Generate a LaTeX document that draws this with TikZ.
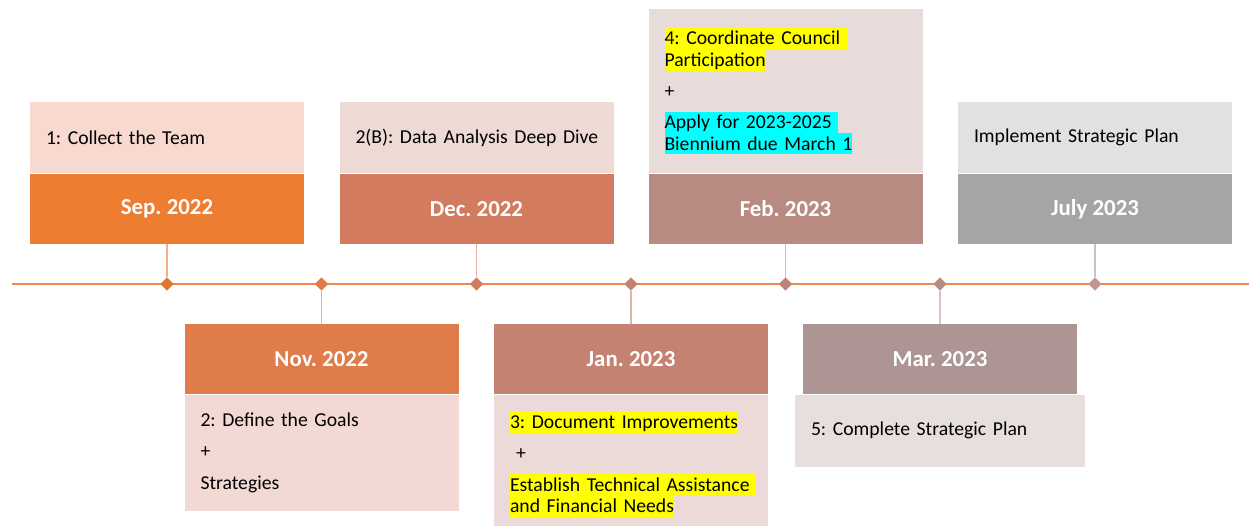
\documentclass[tikz,border=0pt]{standalone}
\usepackage{fontspec}
\setmainfont{Carlito}
\usetikzlibrary{positioning,shapes.geometric}

\definecolor{axisline}{HTML}{ED8B4F}
\definecolor{sepDate}{HTML}{ED7D31}
\definecolor{sepNote}{HTML}{F7D9D0}
\definecolor{sepLink}{HTML}{F4B183}
\definecolor{novDate}{HTML}{E07B4A}
\definecolor{novNote}{HTML}{F2D9D3}
\definecolor{novLink}{HTML}{F2B290}
\definecolor{decDate}{HTML}{D27B5E}
\definecolor{decNote}{HTML}{EEDAD5}
\definecolor{decLink}{HTML}{E9B4A3}
\definecolor{janDate}{HTML}{C58270}
\definecolor{janNote}{HTML}{EBDAD7}
\definecolor{janLink}{HTML}{DDB4A9}
\definecolor{febDate}{HTML}{B98A82}
\definecolor{febNote}{HTML}{E8DCDA}
\definecolor{febLink}{HTML}{D6BDB8}
\definecolor{marDate}{HTML}{AD9593}
\definecolor{marNote}{HTML}{E6DFDE}
\definecolor{marLink}{HTML}{D9C6C3}
\definecolor{julDate}{HTML}{A5A5A5}
\definecolor{julNote}{HTML}{E1E1E1}
\definecolor{julLink}{HTML}{C4C4C4}
\definecolor{hlyellow}{HTML}{FFFF00}
\definecolor{hlcyan}{HTML}{00FFFF}

% highlighted line of text
\newcommand{\hilite}[2]{{\setlength{\fboxsep}{0pt}\colorbox{#1}{\rule[-2.5pt]{0pt}{12.1pt}#2}}}

\begin{document}
\frenchspacing
\begin{tikzpicture}[
  datebox/.style={rectangle, minimum width=5.48cm, minimum height=1.4cm, inner sep=0pt,
    text=white, font=\fontsize{13}{15}\selectfont\bfseries},
  notebox/.style={rectangle, minimum width=5.48cm, inner xsep=0.32cm, inner ysep=0pt,
    text width=4.84cm, align=left, font=\fontsize{11.2}{12.1}\selectfont},
  dot/.style={diamond, minimum size=0.27cm, inner sep=0pt},
  link/.style={line width=0.6pt},
  axis/.style={line width=1.1pt, draw=axisline},
]
\useasboundingbox (0,-4.82) rectangle (24.98,5.68);

%── Timeline axis ────────────────────────────────────────────────────────────

\coordinate (axstart) at (0.24,0);
\coordinate (axend)   at (24.98,0);
\draw[axis] (axstart) -- (axend);

%── Sep. 2022 (top) ──────────────────────────────────────────────────────────

\node[datebox, fill=sepDate] (sep) at (3.34,1.5) {Sep. 2022};
\node[notebox, fill=sepNote, minimum height=1.42cm, above=0pt of sep] (sepnote)
  {1: Collect the Team};
\node[dot, fill=sepDate!95!black] (d1) at (3.34,0) {};
\draw[link, sepLink] (sep) -- (d1);

%── Nov. 2022 (bottom) ───────────────────────────────────────────────────────

\node[datebox, fill=novDate] (nov) at (6.43,-1.5) {Nov. 2022};
\node[notebox, fill=novNote, minimum height=2.32cm, below=0pt of nov] (novnote)
  {2: Define the Goals\\[5.7pt]
   +\\[5.7pt]
   Strategies};
\node[dot, fill=novDate] (d2) at (6.43,0) {};
\draw[link, novLink] (d2) -- (nov);

%── Dec. 2022 (top) ──────────────────────────────────────────────────────────

\node[datebox, fill=decDate] (dec) at (9.53,1.5) {Dec. 2022};
\node[notebox, fill=decNote, minimum height=1.42cm, above=0pt of dec] (decnote)
  {\mbox{2(B): Data Analysis Deep Dive}};
\node[dot, fill=decDate] (d3) at (9.53,0) {};
\draw[link, decLink] (dec) -- (d3);

%── Jan. 2023 (bottom) ───────────────────────────────────────────────────────

\node[datebox, fill=janDate] (jan) at (12.62,-1.5) {Jan. 2023};
\node[notebox, fill=janNote, minimum height=2.78cm, below=0pt of jan] (jannote)
  {\hilite{hlyellow}{3: Document Improvements}\\[5.7pt]
   \hspace*{0.12cm}+\\[5.7pt]
   \hilite{hlyellow}{Establish Technical Assistance\ }\\
   \hilite{hlyellow}{and Financial Needs}};
\node[dot, fill=janDate] (d4) at (12.62,0) {};
\draw[link, janLink] (d4) -- (jan);

%── Feb. 2023 (top) ──────────────────────────────────────────────────────────

\node[datebox, fill=febDate] (feb) at (15.71,1.5) {Feb. 2023};
\node[notebox, fill=febNote, minimum height=3.28cm, above=0pt of feb] (febnote)
  {\hilite{hlyellow}{4: Coordinate Council\ }\\
   \hilite{hlyellow}{Participation}\\[5.7pt]
   +\\[5.7pt]
   \hilite{hlcyan}{Apply for 2023-2025\ }\\
   \hilite{hlcyan}{Biennium due March 1}};
\node[dot, fill=febDate!95!red] (d5) at (15.71,0) {};
\draw[link, febLink] (feb) -- (d5);

%── Mar. 2023 (bottom) ───────────────────────────────────────────────────────

\node[datebox, fill=marDate] (mar) at (18.80,-1.5) {Mar. 2023};
\node[notebox, fill=marNote, minimum width=5.8cm, text width=5.16cm,
  minimum height=1.44cm, below=0pt of mar] (marnote)
  {5: Complete Strategic Plan};
\node[dot, fill=febDate] (d6) at (18.80,0) {};
\draw[link, marLink] (d6) -- (mar);

%── July 2023 (top) ──────────────────────────────────────────────────────────

\node[datebox, fill=julDate] (jul) at (21.90,1.5) {July 2023};
\node[notebox, fill=julNote, minimum height=1.42cm, above=0pt of jul] (julnote)
  {Implement Strategic Plan};
\node[dot, fill=febDate!90!white] (d7) at (21.90,0) {};
\draw[link, julLink] (jul) -- (d7);

\end{tikzpicture}
\end{document}
